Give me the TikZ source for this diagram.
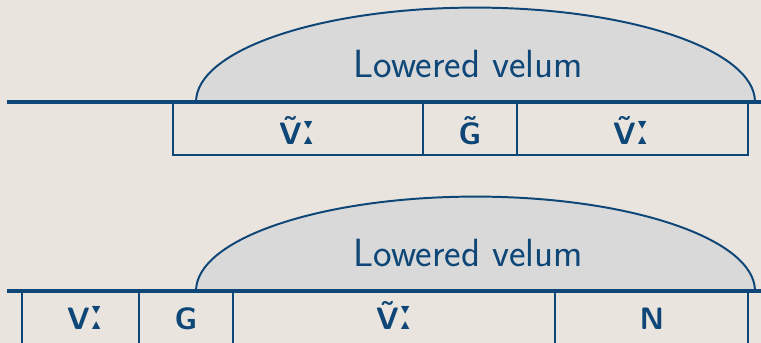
\documentclass[tikz,border=0pt]{standalone}
\usepackage{fontspec}
\newfontfamily\ipafont{DejaVu Sans}
\definecolor{velblue}{HTML}{0D4677}
\definecolor{velbg}{HTML}{E9E5DE}
\definecolor{velfill}{HTML}{D9D9D9}
\newcommand{\lng}{\kern0.6pt{\ipafont\bfseries\fontsize{30}{30}\selectfont ː}}
\newcommand{\nas}[1]{\accent"02DC #1}

\begin{document}
\begin{tikzpicture}[every node/.style={text=velblue},
  tier/.style={velblue, line width=2.2pt},
  velum/.style={draw=velblue, fill=velfill, line width=1.4pt},
  seg/.style={draw=velblue, line width=0.8pt},
  seglbl/.style={font=\sffamily\bfseries\fontsize{22}{24}\selectfont, anchor=base},
  vellbl/.style={font=\sffamily\fontsize{28}{32}\selectfont, anchor=base}]
% background
\fill[velbg] (0,0) rectangle (19.025,8.575);
\useasboundingbox (0,0) rectangle (19.025,8.575);

% Top: nasal vowel, nasal glide, nasal vowel
\draw[velum] (4.9,6.025) arc[start angle=180, end angle=0, x radius=6.9875, y radius=2.36];
\node[vellbl] (vel1) at (11.71,6.625) {Lowered velum};
\draw[seg] (4.325,6.025) rectangle (18.7,4.7);
\draw[seg] (10.575,6.025) -- (10.575,4.7);
\draw[seg] (12.925,6.025) -- (12.925,4.7);
\draw[tier] (0.175,6.025) -- (19.025,6.025);
\node[seglbl] (v1) at (7.45,4.95) {\nas{V}\lng};
\node[seglbl] (g1) at (11.75,4.95) {\nas{G}};
\node[seglbl] (v2) at (15.8,4.95) {\nas{V}\lng};

% Bottom: oral vowel, oral glide, nasal vowel, nasal stop
\draw[velum] (4.9,1.3) arc[start angle=180, end angle=0, x radius=6.9875, y radius=2.36];
\node[vellbl] (vel2) at (11.71,1.9) {Lowered velum};
\draw[seg] (0.55,1.3) -- (0.55,0);
\draw[seg] (3.475,1.3) -- (3.475,0);
\draw[seg] (5.825,1.3) -- (5.825,0);
\draw[seg] (13.875,1.3) -- (13.875,0);
\draw[seg] (18.7,1.3) -- (18.7,0);
\draw[tier] (0.175,1.3) -- (19.025,1.3);
\node[seglbl] (v3) at (2.15,0.325) {V\lng};
\node[seglbl] (g2) at (4.65,0.325) {G};
\node[seglbl] (v4) at (9.875,0.325) {\nas{V}\lng};
\node[seglbl] (n1) at (16.3,0.325) {N};
\end{tikzpicture}
\end{document}
